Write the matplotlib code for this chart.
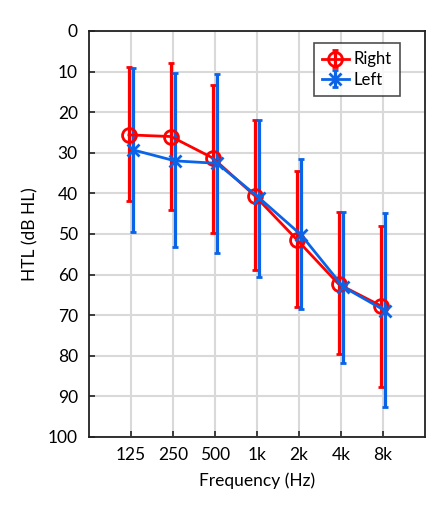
import matplotlib
matplotlib.use("Agg")
import matplotlib.pyplot as plt
import numpy as np

# audiogram data (dB HL)
freqs = [125, 250, 500, 1000, 2000, 4000, 8000]
freq_labels = ["125", "250", "500", "1k", "2k", "4k", "8k"]

right_mean = [25.6, 26.0, 31.3, 40.6, 51.4, 62.4, 67.7]
right_top = [8.8, 7.8, 13.3, 21.9, 34.6, 44.7, 48.0]
right_bottom = [42.0, 44.0, 49.7, 59.0, 67.9, 79.6, 87.6]

left_mean = [29.3, 32.0, 32.6, 41.1, 50.2, 63.0, 68.9]
left_top = [9.2, 10.4, 10.7, 22.0, 31.5, 44.6, 44.9]
left_bottom = [49.5, 53.2, 54.7, 60.5, 68.5, 81.7, 92.7]

RED = "#ff0000"
BLUE = "#0a64e8"

plt.rcParams['font.family'] = ['Lato', 'DejaVu Sans']

fig = plt.figure(figsize=(4.43, 5.08), dpi=100)
ax = fig.add_axes([0.201, 0.140, 0.758, 0.799])

f = np.array(freqs, dtype=float)
shift = 2 ** 0.05


def draw(x, mean, top, bottom, color, marker, label, ms, mfc):
    mean = np.array(mean)
    yerr = [mean - np.array(top), np.array(bottom) - mean]
    ax.errorbar(x, mean, yerr=yerr, color=color, lw=2, elinewidth=2.3,
                capsize=2.5, capthick=2, marker=marker, ms=ms, mew=2,
                mfc=mfc, mec=color, label=label, zorder=3)


draw(f / shift, right_mean, right_top, right_bottom, RED, "o", "Right", 10, "none")
draw(f * shift, left_mean, left_top, left_bottom, BLUE, "x", "Left", 9, BLUE)

ax.set_xscale("log", base=2)
ax.set_xlim(62.5, 16000)
ax.set_xticks(freqs)
ax.set_xticklabels(freq_labels)
ax.minorticks_off()

ax.set_ylim(100, 0)
ax.set_yticks(range(0, 101, 10))

ax.grid(True, color="#d9d9d9", lw=1.5)
ax.set_axisbelow(True)
for s in ax.spines.values():
    s.set_color("#222222")
    s.set_linewidth(1.3)
ax.tick_params(direction="in", length=4, width=1.2, labelsize=12.5,
               color="#222222", pad=8)
ax.tick_params(axis="x", pad=7)

ax.set_xlabel("Frequency (Hz)", fontsize=12.5, labelpad=7)
ax.set_ylabel("HTL (dB HL)", fontsize=12.5, labelpad=7)

leg = ax.legend(loc="upper right", bbox_to_anchor=(0.926, 0.970), fontsize=12,
                frameon=True, fancybox=False, edgecolor="#222222",
                handlelength=1.6, handletextpad=0.3, borderpad=0.5,
                labelspacing=0.25, borderaxespad=0)
leg.get_frame().set_linewidth(1.2)

fig.savefig("out.png", dpi=100)
